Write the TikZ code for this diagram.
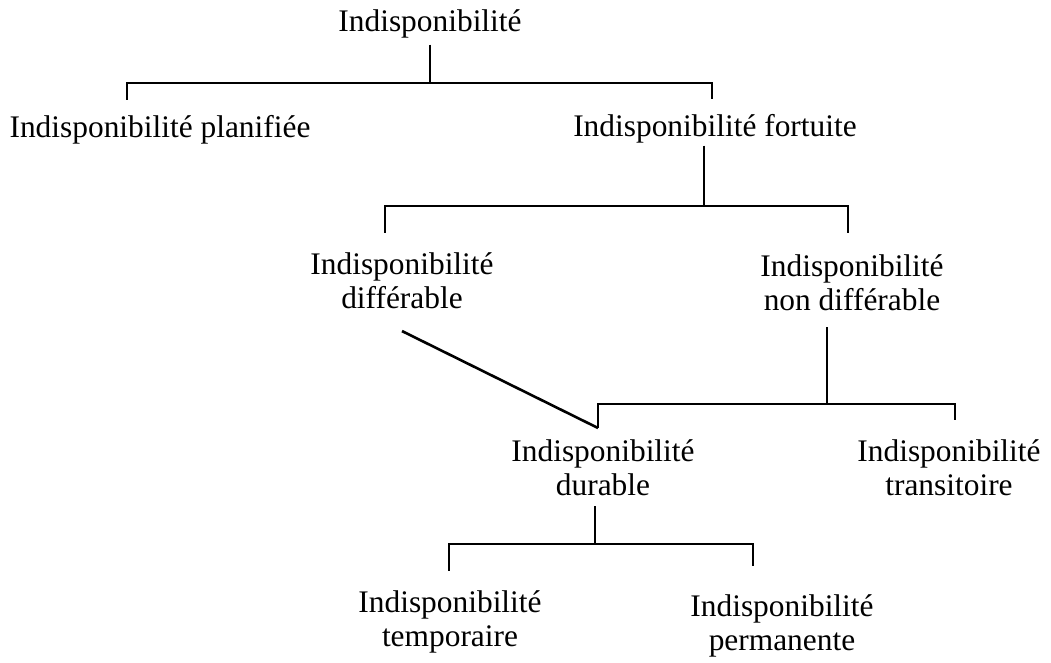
\documentclass[tikz,border=0pt]{standalone}
\usepackage{fontspec}
\setmainfont{Liberation Serif}
\usetikzlibrary{calc}
\tikzset{
  term/.style={align=center,inner sep=0pt,outer sep=3pt,font=\fontsize{15.7}{17}\selectfont},
  tie/.style={line width=1.3pt,line join=miter}}

\begin{document}
\begin{tikzpicture}[x=0.5pt,y=-0.5pt]
\useasboundingbox (0,0) rectangle (1051,663);
\node[term,anchor=base] (root) at (430,32) {Indisponibilité};
\node[term,anchor=base] (plan) at (160,138) {Indisponibilité planifiée};
\node[term,anchor=base] (fort) at (715,137) {Indisponibilité fortuite};
\node[term] (diff) at (402,281) {Indisponibilité\\différable};
\node[term] (ndiff) at (852,283) {Indisponibilité\\non différable};
\node[term] (dur) at (603,468) {Indisponibilité\\durable};
\node[term] (trans) at (949,468) {Indisponibilité\\transitoire};
\node[term] (temp) at (450,622) {Indisponibilité\\temporaire};
\node[term] (perm) at (782,626) {Indisponibilité\\permanente};
\coordinate (b1l) at (127,83);
\coordinate (b1r) at (712,83);
\coordinate (b2l) at (385,206);
\coordinate (b2m) at (704,206);
\coordinate (b2r) at (848,206);
\coordinate (b3t) at (598,428);
\coordinate (b3m) at (827,404);
\coordinate (b3r) at (955,404);
\coordinate (b4l) at (449,544);
\coordinate (b4m) at (595,544);
\coordinate (b4r) at (753,544);
\draw[tie] (root.south) -- (root.south |- b1l);
\draw[tie] (b1l) ++(0,17) |- (b1r) -- ++(0,16);
\draw[tie,shorten <=-2pt] (fort.south -| b2m) -- (b2m);
\draw[tie] (b2l) ++(0,27) |- (b2r) -- ++(0,27);
\draw[tie] ([yshift=-8pt]diff.south) -- (b3t);
\draw[tie,shorten <=5pt] (ndiff.south -| b3m) -- (b3m);
\draw[tie] (b3t) |- (b3r) -- ++(0,16);
\draw[tie,shorten <=2pt] (dur.south -| b4m) -- (b4m);
\draw[tie] (b4l) ++(0,27) |- (b4r) -- ++(0,22);
\end{tikzpicture}
\end{document}
